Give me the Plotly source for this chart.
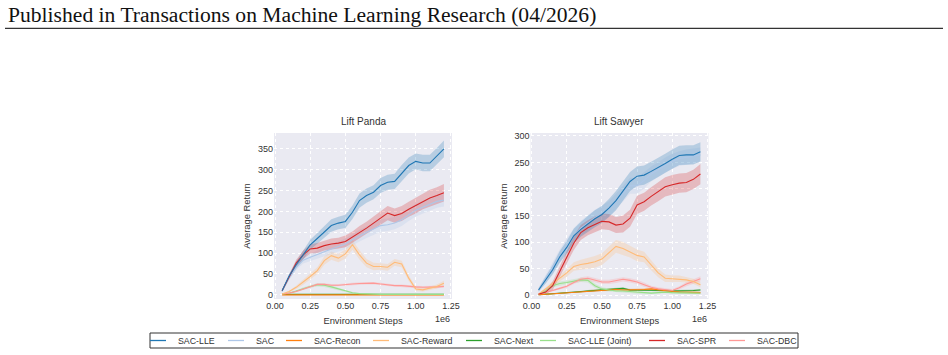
import plotly.graph_objects as go

# ---------------- data ----------------
STEPS = [0.05, 0.10, 0.15, 0.20, 0.25, 0.30, 0.35, 0.40, 0.45, 0.50, 0.55, 0.60,
         0.65, 0.70, 0.75, 0.80, 0.85, 0.90, 0.95, 1.00, 1.05, 1.10, 1.15, 1.20]  # x 1e6

SERIES = ["SAC-LLE", "SAC", "SAC-Recon", "SAC-Reward", "SAC-Next",
          "SAC-LLE (Joint)", "SAC-SPR", "SAC-DBC"]
COLORS = ["#1f77b4", "#aec7e8", "#ff7f0e", "#ffbb78", "#2ca02c",
          "#98df8a", "#d62728", "#ff9896"]

PANEL_TITLES = ["Lift Panda", "Lift Sawyer"]
X_TICKS = [0.0, 0.25, 0.5, 0.75, 1.0, 1.25]
PANDA_Y_TICKS = [0, 50, 100, 150, 200, 250, 300, 350]
SAWYER_Y_TICKS = [0, 50, 100, 150, 200, 250, 300]

# Lift Panda means
panda_sac_lle = [10, 45, 72, 95, 120, 135, 150, 166, 172, 176, 198, 226, 238, 246, 262, 270, 272, 292, 310, 320, 316, 316, 332, 350]
panda_sac = [8, 40, 65, 83, 90, 97, 103, 110, 116, 122, 132, 142, 150, 158, 166, 168, 172, 180, 192, 203, 210, 217, 224, 227]
panda_sac_recon = [0, 0, 0, 0, 0, 0, 0, 0, 0, 0, 0, 0, 0, 0, 0, 0, 0, 0, 0, 0, 0, 0, 0, 0]
panda_sac_reward = [2, 8, 18, 30, 44, 58, 82, 94, 88, 98, 120, 96, 76, 68, 68, 66, 78, 74, 40, 14, 12, 16, 20, 28]
panda_sac_next = [1, 1, 1, 1, 1, 1, 1, 1, 1, 1, 1, 1, 1, 1, 1, 1, 1, 1, 1, 1, 1, 1, 1, 1]
panda_sac_lle_joint = [2, 4, 9, 15, 20, 24, 23, 19, 14, 9, 5, 3, 2, 1, 1, 1, 1, 1, 1, 1, 1, 1, 1, 1]
panda_sac_spr = [10, 45, 76, 96, 110, 112, 118, 122, 124, 128, 138, 150, 160, 172, 184, 196, 190, 195, 205, 214, 224, 232, 238, 245]
panda_sac_dbc = [2, 4, 8, 14, 20, 25, 25, 23, 23, 25, 26, 27, 28, 28, 26, 24, 22, 22, 20, 19, 18, 18, 19, 20]

# Lift Panda band half-widths
panda_sac_lle_sd = [2, 5, 8, 10, 12, 13, 14, 15, 15, 16, 16, 17, 17, 17, 18, 18, 18, 19, 19, 19, 20, 20, 20, 20]
panda_sac_sd = [2, 4, 6, 8, 9, 10, 11, 12, 12, 13, 13, 14, 14, 14, 15, 15, 15, 15, 15, 15, 15, 15, 15, 15]
panda_sac_recon_sd = [1] * 24
panda_sac_reward_sd = [1, 2, 4, 6, 7, 8, 10, 10, 10, 11, 12, 11, 10, 9, 8, 8, 8, 8, 7, 5, 4, 4, 5, 6]
panda_sac_next_sd = [1] * 24
panda_sac_lle_joint_sd = [1, 1, 2, 3, 3, 4, 4, 3, 3, 2, 2, 1, 1, 1, 1, 1, 1, 1, 1, 1, 1, 1, 1, 1]
panda_sac_spr_sd = [2, 5, 8, 10, 11, 12, 12, 13, 13, 14, 14, 15, 15, 16, 16, 17, 17, 18, 18, 19, 19, 20, 20, 21]
panda_sac_dbc_sd = [1, 1, 2, 2, 3, 3, 3, 3, 3, 3, 3, 3, 3, 3, 3, 3, 3, 3, 3, 3, 3, 3, 3, 3]

# Lift Sawyer means
sawyer_sac_lle = [10, 28, 48, 72, 90, 112, 124, 134, 144, 152, 164, 178, 196, 214, 224, 226, 233, 240, 248, 256, 263, 264, 264, 270]
sawyer_sac = [10, 30, 52, 74, 94, 112, 126, 136, 146, 154, 162, 176, 192, 206, 206, 216, 228, 236, 245, 252, 257, 260, 262, 264]
sawyer_sac_recon = [1, 2, 2, 3, 4, 5, 6, 8, 9, 10, 10, 11, 10, 10, 10, 11, 12, 10, 8, 7, 6, 6, 5, 5]
sawyer_sac_reward = [2, 12, 22, 32, 42, 54, 58, 60, 63, 68, 80, 92, 88, 82, 75, 72, 56, 42, 32, 31, 31, 29, 26, 20]
sawyer_sac_next = [1, 2, 2, 3, 4, 5, 6, 8, 9, 10, 11, 12, 13, 10, 10, 10, 10, 10, 9, 8, 8, 8, 9, 10]
sawyer_sac_lle_joint = [2, 8, 18, 22, 24, 27, 29, 28, 18, 12, 10, 8, 8, 7, 5, 4, 4, 5, 6, 5, 5, 4, 4, 4]
sawyer_sac_spr = [2, 6, 18, 45, 72, 98, 118, 127, 133, 139, 138, 132, 134, 145, 170, 176, 186, 195, 204, 208, 211, 212, 218, 228]
sawyer_sac_dbc = [2, 5, 9, 13, 17, 24, 30, 32, 28, 25, 25, 27, 30, 28, 25, 20, 15, 12, 10, 9, 14, 21, 26, 31]

# Lift Sawyer band half-widths
sawyer_sac_lle_sd = [3, 6, 9, 11, 12, 13, 14, 15, 16, 16, 17, 18, 18, 18, 18, 18, 18, 18, 18, 18, 18, 18, 18, 18]
sawyer_sac_sd = [4, 8, 10, 12, 13, 14, 14, 15, 15, 15, 15, 15, 15, 15, 15, 15, 14, 14, 14, 14, 14, 14, 14, 14]
sawyer_sac_recon_sd = [1, 1, 1, 1, 1, 1, 1, 2, 2, 2, 2, 2, 2, 2, 2, 2, 2, 2, 2, 2, 2, 2, 2, 2]
sawyer_sac_reward_sd = [1, 3, 5, 6, 7, 8, 9, 10, 11, 11, 12, 12, 12, 11, 11, 10, 9, 8, 7, 6, 6, 5, 5, 5]
sawyer_sac_next_sd = [1, 1, 1, 1, 1, 1, 1, 2, 2, 2, 2, 2, 2, 2, 2, 2, 2, 2, 2, 2, 2, 2, 2, 2]
sawyer_sac_lle_joint_sd = [1, 2, 3, 4, 4, 4, 4, 4, 4, 3, 3, 3, 3, 3, 2, 2, 2, 2, 2, 2, 2, 2, 2, 2]
sawyer_sac_spr_sd = [2, 4, 8, 10, 12, 13, 14, 14, 15, 15, 15, 15, 16, 16, 17, 17, 17, 18, 18, 18, 18, 18, 18, 19]
sawyer_sac_dbc_sd = [1, 1, 2, 2, 3, 3, 4, 4, 4, 4, 4, 4, 4, 4, 4, 4, 3, 3, 3, 3, 3, 4, 4, 5]

PANDA = [panda_sac_lle, panda_sac, panda_sac_recon, panda_sac_reward,
         panda_sac_next, panda_sac_lle_joint, panda_sac_spr, panda_sac_dbc]
PANDA_SD = [panda_sac_lle_sd, panda_sac_sd, panda_sac_recon_sd, panda_sac_reward_sd,
            panda_sac_next_sd, panda_sac_lle_joint_sd, panda_sac_spr_sd, panda_sac_dbc_sd]
SAWYER = [sawyer_sac_lle, sawyer_sac, sawyer_sac_recon, sawyer_sac_reward,
          sawyer_sac_next, sawyer_sac_lle_joint, sawyer_sac_spr, sawyer_sac_dbc]
SAWYER_SD = [sawyer_sac_lle_sd, sawyer_sac_sd, sawyer_sac_recon_sd, sawyer_sac_reward_sd,
             sawyer_sac_next_sd, sawyer_sac_lle_joint_sd, sawyer_sac_spr_sd, sawyer_sac_dbc_sd]

# ---------------- figure ----------------
W, H = 948, 355
FONT = "Liberation Sans, Arial, sans-serif"
TXT = "#333333"

# legend label left edges (px) as in the reference
LEGEND_TEXT_X = [177, 255, 313, 400, 493, 567, 676, 756]


def rgba(hexc, a):
    h = hexc.lstrip("#")
    return f"rgba({int(h[0:2],16)},{int(h[2:4],16)},{int(h[4:6],16)},{a})"


fig = go.Figure()
panels = [(PANDA, PANDA_SD, "x", "y"), (SAWYER, SAWYER_SD, "x2", "y2")]
draw_order = [4, 2, 5, 7, 3, 1, 6, 0]
for p, (means, sds, xa, ya) in enumerate(panels):
    for i in draw_order:
        m, s = means[i], sds[i]
        upper = [a + b for a, b in zip(m, s)]
        lower = [a - b for a, b in zip(m, s)]
        fig.add_trace(go.Scatter(
            x=STEPS + STEPS[::-1], y=upper + lower[::-1], fill="toself",
            fillcolor=rgba(COLORS[i], 0.25), line=dict(width=0), mode="lines",
            hoverinfo="skip", showlegend=False, xaxis=xa, yaxis=ya))
    for i in draw_order:
        fig.add_trace(go.Scatter(
            x=STEPS, y=means[i], mode="lines", name=SERIES[i],
            line=dict(color=COLORS[i], width=1.1), legendgroup=SERIES[i],
            showlegend=False, xaxis=xa, yaxis=ya))

# legend entries (short line samples), one small legend per entry
legend_layouts = {}
for i, name in enumerate(SERIES):
    lname = "legend" if i == 0 else f"legend{i + 1}"
    fig.add_trace(go.Scatter(
        x=[None], y=[None], mode="markers", name=name, legendgroup=name,
        marker=dict(symbol="line-ew", size=11.4, color=COLORS[i],
                    line=dict(color=COLORS[i], width=1.3)),
        showlegend=True, legend=lname, xaxis="x", yaxis="y"))
    legend_layouts[lname] = dict(
        orientation="h", x=(LEGEND_TEXT_X[i] - 39) / W, xanchor="left",
        y=1 - 340.5 / H, yanchor="middle", bgcolor="rgba(0,0,0,0)", borderwidth=0,
        font=dict(family=FONT, size=8.8, color=TXT), itemsizing="trace")

ytop, ybot = 1 - 133 / H, 1 - 299 / H
xd1 = [274 / W, 452 / W]
xd2 = [530.5 / W, 708.5 / W]

axis_common = dict(
    showgrid=True, gridcolor="white", gridwidth=1, griddash="dot",
    zeroline=False, showline=False, ticks="", automargin=False,
    tickfont=dict(family=FONT, size=9, color=TXT),
)
xtitle = dict(text="Environment Steps", font=dict(size=9.4, family=FONT, color=TXT), standoff=7)
ytitle = dict(text="Average Return", font=dict(size=9.4, family=FONT, color=TXT), standoff=5)

fig.update_layout(
    width=W, height=H, margin=dict(l=0, r=0, t=0, b=0, autoexpand=False),
    paper_bgcolor="white", plot_bgcolor="#EAEAF2",
    font=dict(family=FONT, color=TXT),
    xaxis=dict(domain=xd1, range=[-0.0075, 1.2575], tickvals=X_TICKS, tickformat=".2f",
               title=xtitle, anchor="y", **axis_common),
    yaxis=dict(domain=[ybot, ytop], range=[-10, 388], tickvals=PANDA_Y_TICKS,
               title=ytitle, anchor="x", **axis_common),
    xaxis2=dict(domain=xd2, range=[-0.0075, 1.2575], tickvals=X_TICKS, tickformat=".2f",
                title=xtitle, anchor="y2", **axis_common),
    yaxis2=dict(domain=[ybot, ytop], range=[-7, 305.2], tickvals=SAWYER_Y_TICKS,
                title=ytitle, anchor="x2", **axis_common),
    **legend_layouts,
)

annotations = []
for k, xd in enumerate([xd1, xd2]):
    annotations.append(dict(text=PANEL_TITLES[k], x=(xd[0] + xd[1]) / 2, y=1 - 121 / H,
                            xref="paper", yref="paper", showarrow=False,
                            xanchor="center", yanchor="middle",
                            font=dict(family=FONT, size=10, color=TXT)))
    annotations.append(dict(text="1e6", x=xd[1], y=1 - 319.3 / H, xref="paper", yref="paper",
                            showarrow=False, xanchor="right", yanchor="middle",
                            font=dict(family=FONT, size=9, color=TXT)))
annotations.append(dict(text="Published in Transactions on Machine Learning Research (04/2026)",
                        x=6 / W, y=1 - 15 / H, xref="paper", yref="paper", showarrow=False,
                        xanchor="left", yanchor="middle",
                        font=dict(family="Liberation Serif, serif", size=21.6, color="#111")))
fig.update_layout(annotations=annotations)

fig.update_layout(shapes=[
    dict(type="line", xref="paper", yref="paper", x0=5 / W, x1=943 / W,
         y0=1 - 28.3 / H, y1=1 - 28.3 / H, line=dict(color="#333", width=1.2)),
    dict(type="rect", xref="paper", yref="paper", x0=150 / W, x1=798 / W,
         y0=1 - 348 / H, y1=1 - 333 / H, line=dict(color="#333", width=1),
         fillcolor="white", layer="below"),
])

fig.write_html("out.html")
